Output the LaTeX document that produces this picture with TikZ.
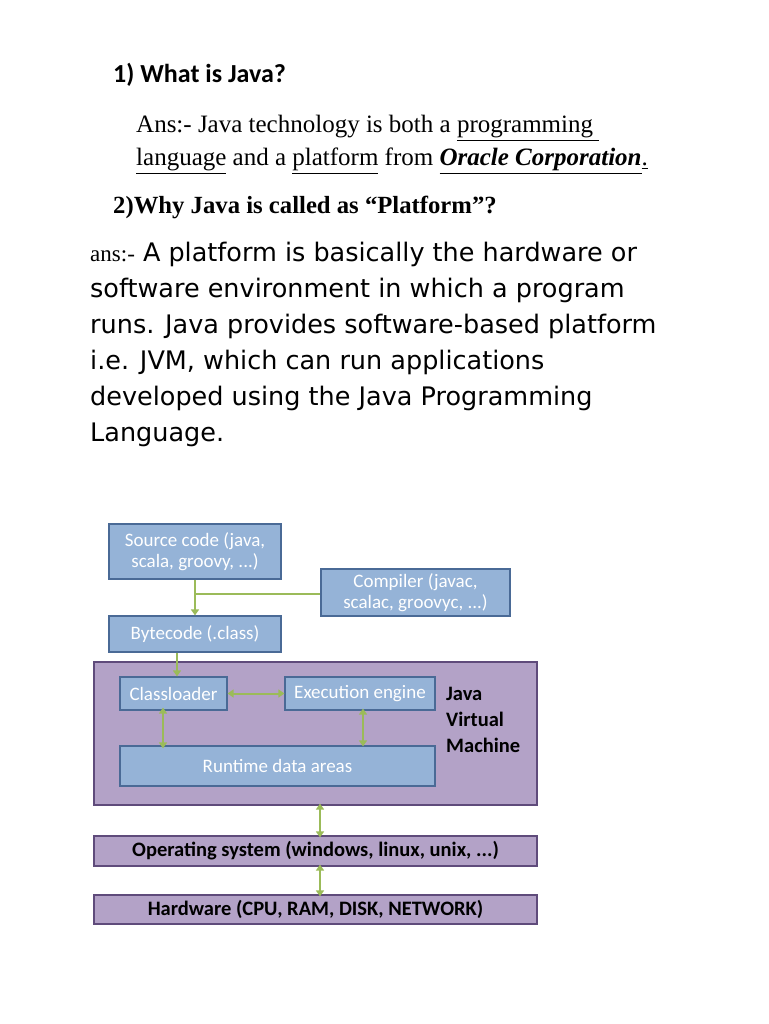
\documentclass[tikz,border=0pt]{standalone}
\usepackage{fontspec}
\setmainfont{Liberation Serif}
\newfontfamily\carl{Carlito}
\newfontfamily\lsans{DejaVu Sans}
\usetikzlibrary{arrows.meta}
\definecolor{bfill}{HTML}{95B3D7}
\definecolor{bdraw}{HTML}{4A6A96}
\definecolor{pfill}{HTML}{B3A2C7}
\definecolor{pdraw}{HTML}{5F4B7B}
\definecolor{agreen}{HTML}{9BBB59}
\tikzset{
 bbox/.style={draw=bdraw,line width=1.2pt,fill=bfill,text=white,font=\carl\fontsize{19}{21}\selectfont,align=center,inner sep=0pt},
 pbox/.style={draw=pdraw,line width=1.2pt,fill=pfill,font=\carl\bfseries\fontsize{20.5}{22}\selectfont,inner sep=0pt},
 arr/.style={draw=agreen,line width=2pt,-{Triangle[length=6pt,width=8pt]}},
 darr/.style={draw=agreen,line width=2pt,{Triangle[length=6pt,width=8pt]}-{Triangle[length=6pt,width=8pt]}},
 txt/.style={anchor=base west,inner sep=0pt},
}
\begin{document}
\begin{tikzpicture}[x=1pt,y=-1pt]
\useasboundingbox[fill=white] (0,0) rectangle (768,1024);
\node[txt,font=\carl\bfseries\fontsize{26}{28}\selectfont] (h1) at (113,83) {1) What is Java?};
\node[txt,font=\fontsize{25}{28}\selectfont] (a1) at (136,133) {Ans:- Java technology is both a \underline{programming\ }};
\node[txt,font=\fontsize{25}{28}\selectfont] (a2) at (136,166) {\underline{language} and a \underline{platform} from \underline{\textbf{\textit{Oracle Corporation}}}\underline{.}};
\node[txt,font=\bfseries\fontsize{24.7}{27}\selectfont] (h2) at (113,214) {2)Why Java is called as “Platform”?};
\foreach \t [count=\i] in {{{\rmfamily\fontsize{23}{26}\selectfont ans:-} A platform is basically the hardware or},
 {software environment in which a program},
 {runs. Java provides software-based platform},
 {i.e. JVM, which can run applications},
 {developed using the Java Programming},
 {Language.}}
 \node[txt,font=\lsans\fontsize{25.5}{28}\selectfont] (b\i) at (90,225+36*\i) {\t};
% diagram
\node[bbox,minimum width=172pt,minimum height=55pt] (src) at (195,551.5) {Source code (java,\\scala, groovy, ...)};
\node[bbox,minimum width=189pt,minimum height=47pt] (comp) at (415.5,592.5) {Compiler (javac,\\scalac, groovyc, ...)};
\node[bbox,minimum width=172pt,minimum height=36pt] (byte) at (195,634) {Bytecode (.class)};
\node[pbox,minimum width=443pt,minimum height=143pt] (jvm) at (315.5,733.5) {};
\node[bbox,minimum width=107pt,minimum height=33pt] (cl) at (173.5,693.5) {Classloader};
\node[bbox,minimum width=150pt,minimum height=33pt] (ex) at (360,693.5) {Execution engine};
\node[bbox,minimum width=315pt,minimum height=40pt] (rt) at (277.5,766) {Runtime data areas};
\node[txt,anchor=north west,align=left,font=\carl\bfseries\fontsize{20.5}{26}\selectfont] (jl) at (446,687) {Java\\Virtual\\Machine};
\node[pbox,minimum width=443pt,minimum height=30pt] (os) at (315.5,851) {Operating system (windows, linux, unix, ...)};
\node[pbox,minimum width=443pt,minimum height=29pt] (hw) at (315.5,909.5) {Hardware (CPU, RAM, DISK, NETWORK)};
\coordinate (j) at (195,594);
\draw[arr] (src) -- (byte);
\draw[draw=agreen,line width=2pt] (j) -- (comp.west |- j);
\draw[arr] (byte.south -| 177,0) -- (cl.north -| 177,0);
\draw[darr] (cl) -- (ex);
\draw[darr] ([yshift=3pt]cl.south -| 163,0) -- ([yshift=-3pt]rt.north -| 163,0);
\draw[darr] ([yshift=2pt]ex.south -| 363,0) -- ([yshift=-1pt]rt.north -| 363,0);
\draw[darr] ([yshift=2pt]jvm.south -| 320,0) -- ([yshift=-2pt]os.north -| 320,0);
\draw[darr] ([yshift=2pt]os.south -| 320,0) -- ([yshift=-2pt]hw.north -| 320,0);
\end{tikzpicture}
\end{document}
